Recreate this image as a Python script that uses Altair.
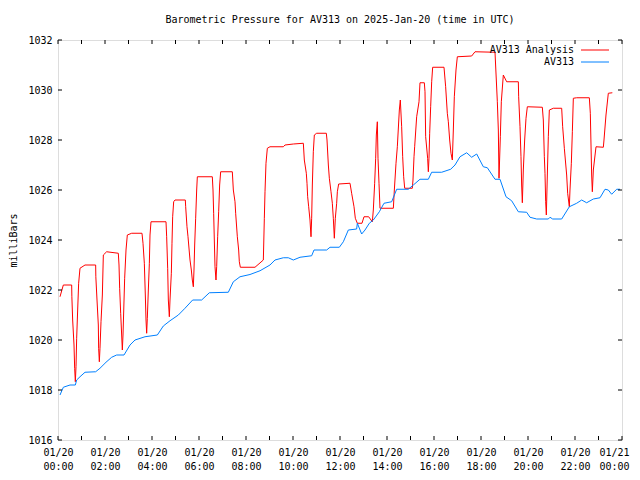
import altair as alt
import pandas as pd

# Hours after 2025-01-20 00:00 UTC, and pressure (mb) for "AV313 Analysis"
analysis_hours = [
    0.085, 0.227, 0.582, 0.590, 0.624, 0.681, 0.709, 0.738, 0.766, 0.794, 0.837, 0.879, 0.936, 1.149,
    1.603, 1.610, 1.660, 1.716, 1.730, 1.759, 1.787, 1.830, 1.887, 1.929, 2.070, 2.567, 2.596, 2.624,
    2.667, 2.709, 2.738, 2.766, 2.837, 2.894, 2.950, 3.135, 3.574, 3.617, 3.674, 3.716, 3.745, 3.773,
    3.801, 3.844, 3.887, 3.915, 3.957, 4.596, 4.624, 4.667, 4.695, 4.738, 4.766, 4.823, 4.851, 4.879,
    4.922, 4.979, 5.418, 5.433, 5.489, 5.532, 5.617, 5.674, 5.716, 5.759, 5.787, 5.816, 5.858, 5.901,
    5.929, 6.567, 6.596, 6.624, 6.652, 6.681, 6.723, 6.752, 6.794, 6.837, 6.879, 6.922, 7.418, 7.461,
    7.532, 7.560, 7.631, 7.688, 7.716, 7.759, 8.383, 8.738, 8.780, 8.809, 8.851, 8.908, 9.021, 9.589,
    9.660, 10.014, 10.440, 10.482, 10.567, 10.596, 10.624, 10.667, 10.723, 10.766, 10.794, 10.823,
    10.865, 10.908, 11.007, 11.418, 11.447, 11.504, 11.546, 11.617, 11.674, 11.716, 11.759, 11.801,
    11.858, 11.887, 11.943, 12.426, 12.496, 12.596, 12.652, 12.738, 12.936, 13.021, 13.220, 13.376,
    13.418, 13.475, 13.518, 13.546, 13.589, 13.617, 13.660, 13.702, 14.270, 14.312, 14.383, 14.440,
    14.525, 14.567, 14.624, 14.667, 14.709, 14.752, 15.078, 15.106, 15.149, 15.177, 15.262, 15.362,
    15.404, 15.589, 15.617, 15.645, 15.730, 15.759, 15.787, 15.816, 15.858, 15.901, 15.943, 16.426,
    16.496, 16.567, 16.610, 16.667, 16.723, 16.780, 16.823, 16.865, 16.936, 16.993, 17.603, 17.745,
    18.596, 18.695, 18.738, 18.766, 18.823, 18.865, 18.950, 19.092, 19.589, 19.603, 19.660, 19.702,
    19.730, 19.759, 19.801, 19.858, 19.915, 19.972, 20.610, 20.652, 20.695, 20.723, 20.752, 20.780,
    20.823, 20.865, 20.908, 21.078, 21.433, 21.475, 21.546, 21.645, 21.688, 21.759, 21.787, 21.844,
    21.887, 21.929, 22.071, 22.610, 22.652, 22.681, 22.709, 22.738, 22.780, 22.894, 23.206, 23.234,
    23.319, 23.418, 23.589,
]
analysis_values = [
    1021.73, 1022.20, 1022.20, 1021.73, 1020.80, 1019.80, 1018.87, 1018.33, 1018.93, 1020.07, 1021.20,
    1022.27, 1022.87, 1023.00, 1023.00, 1022.53, 1021.60, 1020.60, 1019.67, 1019.13, 1019.67, 1020.73,
    1021.80, 1023.40, 1023.53, 1023.47, 1023.00, 1022.07, 1021.07, 1020.20, 1019.60, 1020.20, 1022.47,
    1023.60, 1024.20, 1024.27, 1024.27, 1023.87, 1023.07, 1021.80, 1020.80, 1020.27, 1020.87, 1022.00,
    1023.07, 1024.20, 1024.73, 1024.73, 1024.13, 1022.87, 1021.60, 1020.93, 1021.60, 1022.67, 1023.87,
    1024.93, 1025.53, 1025.60, 1025.60, 1025.33, 1024.53, 1024.13, 1023.20, 1022.80, 1022.40, 1022.13,
    1022.80, 1023.80, 1024.87, 1026.00, 1026.53, 1026.53, 1026.00, 1025.07, 1024.00, 1022.93, 1022.40,
    1022.93, 1024.13, 1025.13, 1026.20, 1026.73, 1026.73, 1026.00, 1025.53, 1025.07, 1024.13, 1023.60,
    1023.13, 1022.91, 1022.91, 1023.20, 1024.87, 1025.93, 1027.07, 1027.67, 1027.73, 1027.73, 1027.80,
    1027.84, 1027.87, 1027.20, 1026.67, 1026.27, 1025.73, 1025.33, 1024.80, 1024.13, 1024.87, 1026.20,
    1027.53, 1028.20, 1028.27, 1028.27, 1028.00, 1027.00, 1026.47, 1025.93, 1025.47, 1024.87, 1024.07,
    1024.87, 1025.47, 1025.93, 1026.24, 1026.27, 1025.87, 1025.33, 1024.87, 1024.67, 1024.67, 1024.93,
    1024.93, 1024.73, 1025.20, 1026.27, 1027.27, 1028.20, 1028.73, 1027.27, 1026.27, 1025.27, 1025.27,
    1026.00, 1027.07, 1027.73, 1029.20, 1029.60, 1028.53, 1027.33, 1026.53, 1026.07, 1026.07, 1026.40,
    1027.33, 1027.73, 1028.93, 1029.53, 1030.29, 1030.29, 1029.93, 1028.13, 1027.27, 1026.73, 1027.27,
    1028.27, 1029.33, 1030.33, 1030.91, 1030.91, 1030.13, 1029.07, 1028.73, 1028.00, 1027.47, 1027.20,
    1028.40, 1029.73, 1030.80, 1031.33, 1031.36, 1031.53, 1031.51, 1029.53, 1028.40, 1026.47, 1028.13,
    1029.53, 1030.60, 1030.33, 1030.33, 1029.73, 1028.53, 1027.33, 1026.20, 1025.49, 1026.80, 1028.00,
    1028.87, 1029.33, 1029.31, 1028.80, 1027.33, 1026.67, 1025.53, 1025.00, 1026.60, 1028.13, 1029.20,
    1029.27, 1029.27, 1028.53, 1027.67, 1026.60, 1025.87, 1025.33, 1026.00, 1027.07, 1028.33, 1029.67,
    1029.69, 1029.69, 1029.07, 1027.80, 1026.60, 1025.93, 1026.80, 1027.73, 1027.71, 1028.00, 1029.00,
    1029.87, 1029.89,
]

# Observed "AV313"
obs_hours = [
    0.085, 0.227, 0.511, 0.738, 0.794, 0.936, 1.149, 1.603, 1.787, 2.043, 2.284, 2.496, 2.809, 3.064,
    3.277, 3.702, 4.227, 4.482, 4.766, 5.121, 5.404, 5.730, 6.113, 6.440, 7.248, 7.461, 7.745, 8.170,
    8.596, 9.021, 9.234, 9.589, 9.800, 10.014, 10.298, 10.794, 10.894, 11.433, 11.574, 11.972, 12.142,
    12.355, 12.709, 12.738, 12.922, 13.064, 13.248, 13.418, 13.674, 13.872, 14.199, 14.411, 14.908,
    15.121, 15.404, 15.759, 15.901, 16.326, 16.709, 16.894, 17.106, 17.390, 17.603, 17.816, 18.099,
    18.270, 18.596, 18.809, 19.064, 19.305, 19.589, 19.943, 20.085, 20.369, 20.865, 20.936, 21.050,
    21.433, 21.759, 22.071, 22.284, 22.496, 22.780, 23.064, 23.277, 23.418, 23.560, 23.773, 23.915,
]
obs_values = [
    1017.80, 1018.11, 1018.20, 1018.20, 1018.40, 1018.53, 1018.71, 1018.73, 1018.87, 1019.11, 1019.31,
    1019.40, 1019.40, 1019.80, 1020.00, 1020.13, 1020.20, 1020.56, 1020.77, 1021.00, 1021.27, 1021.60,
    1021.60, 1021.89, 1021.91, 1022.33, 1022.53, 1022.62, 1022.77, 1023.00, 1023.20, 1023.29, 1023.29,
    1023.20, 1023.31, 1023.37, 1023.60, 1023.60, 1023.71, 1023.71, 1023.93, 1024.40, 1024.44, 1024.67,
    1024.24, 1024.40, 1024.67, 1024.80, 1025.13, 1025.47, 1025.53, 1026.03, 1026.03, 1026.20, 1026.43,
    1026.43, 1026.71, 1026.71, 1026.83, 1027.00, 1027.33, 1027.49, 1027.31, 1027.44, 1026.93, 1026.89,
    1026.43, 1026.43, 1025.73, 1025.57, 1025.13, 1025.11, 1024.91, 1024.84, 1024.84, 1024.91, 1024.84,
    1024.84, 1025.33, 1025.47, 1025.60, 1025.49, 1025.64, 1025.69, 1026.03, 1026.00, 1025.83, 1026.03,
    1026.03,
]

series_names = ["AV313 Analysis", "AV313"]
series_colors = ["#ff0000", "#0080ff"]
x_label_hours = list(range(0, 25, 2))
x_minor_hours = list(range(0, 25, 1))
y_ticks = list(range(1016, 1033, 2))

W, H = 564, 400
FONT = "DejaVu Sans Mono"

df_a = pd.DataFrame({"hour": analysis_hours, "mb": analysis_values, "series": series_names[0]})
df_o = pd.DataFrame({"hour": obs_hours, "mb": obs_values, "series": series_names[1]})

xscale = alt.Scale(domain=[0, 24], nice=False, zero=False)
yscale = alt.Scale(domain=[1016, 1032], nice=False, zero=False)

label_expr = ("[datum.value >= 24 ? '01/21' : '01/20', "
              "((datum.value % 24) < 10 ? '0' : '') + (datum.value % 24) + ':00']")

x_axis = alt.Axis(values=x_label_hours, labelExpr=label_expr, ticks=False, domain=False,
                  grid=False, title=None, labelFont=FONT, labelFontSize=10, labelColor="black",
                  labelPadding=7, labelLineHeight=14, labelFlush=False, labelOverlap=False,
                  labelOffset=alt.condition("datum.value >= 24", alt.value(-8), alt.value(0)))
y_axis = alt.Axis(values=y_ticks, ticks=False, domain=False, grid=False, title="milliBars",
                  labelFont=FONT, labelFontSize=10, labelColor="black", labelPadding=6,
                  titleFont=FONT, titleFontSize=10, titleFontWeight="normal", titleColor="black",
                  titlePadding=9, format="d")

line_a = alt.Chart(df_a).mark_line(color=series_colors[0], strokeWidth=1, interpolate="linear").encode(
    x=alt.X("hour:Q", scale=xscale, axis=x_axis),
    y=alt.Y("mb:Q", scale=yscale, axis=y_axis),
)
line_o = alt.Chart(df_o).mark_line(color=series_colors[1], strokeWidth=1).encode(
    x=alt.X("hour:Q", scale=xscale),
    y=alt.Y("mb:Q", scale=yscale),
)

# inward ticks (gnuplot style, mirrored)
xt = pd.DataFrame({"hour": x_minor_hours})
yt = pd.DataFrame({"mb": y_ticks})
tick_top = alt.Chart(xt).mark_rule(color="black", strokeWidth=1).encode(
    x=alt.X("hour:Q", scale=xscale), y=alt.value(0), y2=alt.value(4))
tick_bot = alt.Chart(xt).mark_rule(color="black", strokeWidth=1).encode(
    x=alt.X("hour:Q", scale=xscale), y=alt.value(H - 4), y2=alt.value(H))
tick_left = alt.Chart(yt).mark_rule(color="black", strokeWidth=1).encode(
    y=alt.Y("mb:Q", scale=yscale), x=alt.value(0), x2=alt.value(4))
tick_right = alt.Chart(yt).mark_rule(color="black", strokeWidth=1).encode(
    y=alt.Y("mb:Q", scale=yscale), x=alt.value(W - 4), x2=alt.value(W))

# gnuplot-style key: label on the left, line sample on the right
key_layers = []
for i, (name, col) in enumerate(zip(series_names, series_colors)):
    yy = 10 + 12 * i
    kd = pd.DataFrame({"series": [name]})
    key_layers.append(alt.Chart(kd).mark_text(align="right", baseline="middle", font=FONT,
                                              fontSize=10, color="black").encode(
        text="series:N", x=alt.value(516), y=alt.value(yy)))
    key_layers.append(alt.Chart(kd).mark_rule(color=col, strokeWidth=1).encode(
        x=alt.value(523), x2=alt.value(551), y=alt.value(yy)))

chart = alt.layer(line_a, line_o, tick_top, tick_bot, tick_left, tick_right, *key_layers).properties(
    width=W, height=H,
    autosize=alt.AutoSizeParams(type="none"),
    padding={"left": 50, "top": 32, "right": 10, "bottom": 40},
    title=alt.TitleParams("Barometric Pressure for AV313 on 2025-Jan-20 (time in UTC)",
                          font=FONT, fontSize=10, fontWeight="normal", color="black",
                          anchor="middle", offset=10),
).configure_view(stroke="black", strokeWidth=1).configure(background="white")

chart.save("out.html", embed_options={"renderer": "svg", "actions": False})
